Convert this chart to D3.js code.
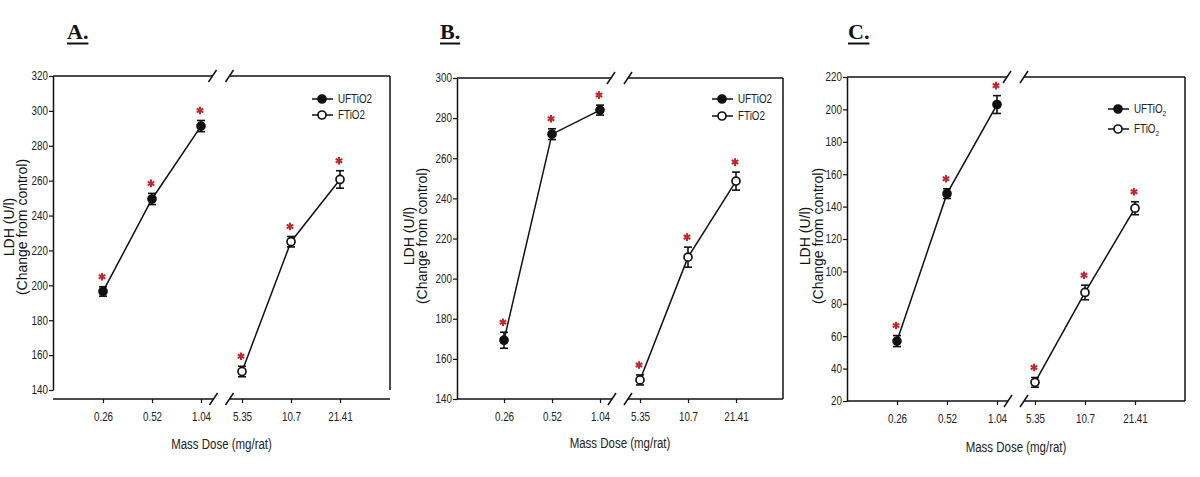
<!DOCTYPE html>
<html><head><meta charset="utf-8">
<script src="https://cdn.jsdelivr.net/npm/d3@7"></script>
<style>
html,body{margin:0;padding:0;background:#fff;}
svg{display:block;}
text{font-family:"Liberation Sans",Arial,sans-serif;fill:#111;}
</style></head>
<body>
<svg id="chart" width="1200" height="477"></svg>
<script>
// ---------- data ----------
const categories = ["0.26", "0.52", "1.04", "5.35", "10.7", "21.41"];
const seriesNames = ["UFTiO2", "FTiO2"];
const xLabel = "Mass Dose (mg/rat)";
const yLabel1 = "LDH (U/l)";
const yLabel2 = "(Change from control)";

// Panel A
const aUF = [196.5, 249.5, 291.3];
const aUFerr = [2.7, 3.2, 3.2];
const aF = [150.6, 225, 260.7];
const aFerr = [3, 3, 5];
const aYTicks = [140, 160, 180, 200, 220, 240, 260, 280, 300, 320];

// Panel B
const bUF = [169.3, 272, 284];
const bUFerr = [4, 2.7, 2.5];
const bF = [149.5, 210.7, 248.6];
const bFerr = [2.5, 5, 4.5];
const bYTicks = [140, 160, 180, 200, 220, 240, 260, 280, 300];

// Panel C
const cUF = [57, 148, 203];
const cUFerr = [3.4, 3, 5.5];
const cF = [31.5, 87, 139];
const cFerr = [3, 4.5, 4];
const cYTicks = [20, 40, 60, 80, 100, 120, 140, 160, 180, 200, 220];

// ---------- layout ----------
const SQ = 0.82; // horizontal condensing of sans text
const layouts = [
  {title:"A.", tx:67, left:53, right:390, top:76, yBottom:390, xAxisY:399, x0:103, s:49, g:41,
   yl1:14, yl2:27, ylY:227, legX:322, legY:[99,115], sub:false, xlY:449},
  {title:"B.", tx:440, left:457, right:783, top:78, yBottom:399, xAxisY:399, x0:504, s:48, g:40,
   yl1:414, yl2:427, ylY:236, legX:722, legY:[99,116], sub:false, xlY:448},
  {title:"C.", tx:848, left:847, right:1185, top:77, yBottom:401, xAxisY:401, x0:897, s:50, g:38,
   yl1:810, yl2:823, ylY:236, legX:1118, legY:[109,129], sub:true, xlY:452}
];
const panelData = [
  [aUF, aUFerr, aF, aFerr, aYTicks],
  [bUF, bUFerr, bF, bFerr, bYTicks],
  [cUF, cUFerr, cF, cFerr, cYTicks]
];

const svg = d3.select("#chart");
const starColor = "#c4262e";

function sqText(parent, x, y, str, size, anchor) {
  const t = parent.append("text")
    .attr("transform", `translate(${x},${y}) scale(${SQ},1)`)
    .attr("font-size", size)
    .attr("text-anchor", anchor || "start")
    .text(str);
  return t;
}

function slash(g, cx, cy) {
  g.append("line").attr("x1", cx - 4).attr("y1", cy + 6).attr("x2", cx + 4).attr("y2", cy - 6)
    .attr("stroke", "#111").attr("stroke-width", 1.5);
}

layouts.forEach((L, pi) => {
  const [uf, ufErr, f, fErr, yTicks] = panelData[pi];
  const g = svg.append("g");

  const x = d3.scaleLinear()
    .domain([0, 2, 3, 5])
    .range([L.x0, L.x0 + 2 * L.s, L.x0 + 2 * L.s + L.g, L.x0 + 4 * L.s + L.g]);
  const y = d3.scaleLinear()
    .domain([yTicks[0], yTicks[yTicks.length - 1]])
    .range([L.yBottom, L.top]);

  // title
  const title = g.append("text")
    .attr("x", L.tx).attr("y", 39)
    .style("font-family", "'Liberation Serif','Times New Roman',serif")
    .attr("font-weight", "bold").attr("font-size", 22)
    .text(L.title);
  const tw = title.node().getComputedTextLength();
  g.append("line").attr("x1", L.tx).attr("x2", L.tx + tw).attr("y1", 43.5).attr("y2", 43.5)
    .attr("stroke", "#111").attr("stroke-width", 2);

  // y axis
  const ya = g.append("g").attr("transform", `translate(${L.left},0)`)
    .call(d3.axisLeft(y).tickValues(yTicks).tickSize(4).tickSizeOuter(0).tickPadding(1));
  ya.select(".domain").attr("stroke", "#111").attr("stroke-width", 1.5);
  ya.selectAll(".tick line").attr("stroke", "#111").attr("stroke-width", 1.2);
  ya.selectAll(".tick text")
    .attr("font-size", 12).attr("font-family", null)
    .attr("x", -5 / SQ)
    .attr("transform", `scale(${SQ},1)`)
    .style("fill", "#222");

  // x axis
  const mid = (x(2) + x(3)) / 2;
  const xa = g.append("g").attr("transform", `translate(0,${L.xAxisY})`)
    .call(d3.axisBottom(x).tickValues([0, 1, 2, 3, 4, 5]).tickFormat(i => categories[i])
      .tickSize(4).tickSizeOuter(0).tickPadding(9));
  xa.select(".domain").remove();
  xa.selectAll(".tick line").attr("stroke", "#111").attr("stroke-width", 1.2);
  xa.selectAll(".tick text")
    .attr("font-size", 12).attr("font-family", null)
    .attr("transform", `scale(${SQ},1)`)
    .style("fill", "#222");

  // x axis line with break
  g.append("line").attr("x1", L.left).attr("x2", mid - 8).attr("y1", L.xAxisY).attr("y2", L.xAxisY)
    .attr("stroke", "#111").attr("stroke-width", 1.5);
  g.append("line").attr("x1", mid + 8).attr("x2", L.right).attr("y1", L.xAxisY).attr("y2", L.xAxisY)
    .attr("stroke", "#111").attr("stroke-width", 1.5);
  slash(g, mid - 8, L.xAxisY);
  slash(g, mid + 8, L.xAxisY);

  // top frame with break
  g.append("line").attr("x1", L.left).attr("x2", mid - 9).attr("y1", L.top).attr("y2", L.top)
    .attr("stroke", "#111").attr("stroke-width", 1.5);
  g.append("line").attr("x1", mid + 8).attr("x2", L.right).attr("y1", L.top).attr("y2", L.top)
    .attr("stroke", "#111").attr("stroke-width", 1.5);
  slash(g, mid - 9, L.top);
  slash(g, mid + 8, L.top);

  // right frame
  g.append("line").attr("x1", L.right).attr("x2", L.right).attr("y1", L.top).attr("y2", L.yBottom)
    .attr("stroke", "#111").attr("stroke-width", 1.5);

  // axis labels
  sqText(g, mid, L.xlY, xLabel, 14, "middle").style("fill", "#222");
  g.append("text").attr("transform", `translate(${L.yl1},${L.ylY}) rotate(-90)`)
    .attr("text-anchor", "middle").attr("font-size", 14).text(yLabel1);
  g.append("text").attr("transform", `translate(${L.yl2},${L.ylY}) rotate(-90)`)
    .attr("text-anchor", "middle").attr("font-size", 14).text(yLabel2);

  // series
  const series = [
    {vals: uf, errs: ufErr, idx: [0, 1, 2], filled: true},
    {vals: f, errs: fErr, idx: [3, 4, 5], filled: false}
  ];
  const line = d3.line().x(d => x(d.i)).y(d => y(d.v));
  series.forEach(se => {
    const pts = se.vals.map((v, k) => ({i: se.idx[k], v: v, e: se.errs[k]}));
    g.append("path").datum(pts).attr("d", line)
      .attr("fill", "none").attr("stroke", "#111").attr("stroke-width", 1.5);
    const eb = g.append("g");
    pts.forEach(p => {
      const cx = x(p.i), yt = y(p.v + p.e), yb = y(p.v - p.e);
      eb.append("line").attr("x1", cx).attr("x2", cx).attr("y1", yt).attr("y2", yb)
        .attr("stroke", "#111").attr("stroke-width", 1.6);
      [yt, yb].forEach(yy => eb.append("line").attr("x1", cx - 4).attr("x2", cx + 4)
        .attr("y1", yy).attr("y2", yy).attr("stroke", "#111").attr("stroke-width", 1.6));
    });
    g.selectAll(null).data(pts).enter().append("circle")
      .attr("cx", d => x(d.i)).attr("cy", d => y(d.v)).attr("r", 4)
      .attr("fill", se.filled ? "#111" : "#fff")
      .attr("stroke", "#111").attr("stroke-width", 1.7);
    // significance stars
    g.selectAll(null).data(pts).enter().append("path")
      .attr("d", d3.symbol(d3.symbolAsterisk, 40)())
      .attr("transform", d => `translate(${x(d.i) - 1},${y(d.v + d.e) - 10})`)
      .attr("stroke", starColor).attr("stroke-width", 2).attr("fill", "none");
  });

  // legend
  seriesNames.forEach((name, k) => {
    const ly = L.legY[k];
    g.append("line").attr("x1", L.legX - 10).attr("x2", L.legX + 11).attr("y1", ly).attr("y2", ly)
      .attr("stroke", "#111").attr("stroke-width", 1.5);
    g.append("circle").attr("cx", L.legX).attr("cy", ly).attr("r", 4)
      .attr("fill", k === 0 ? "#111" : "#fff").attr("stroke", "#111").attr("stroke-width", 1.7);
    const t = sqText(g, L.legX + 16, ly + 4, "", 12, "start").style("fill", "#222");
    if (L.sub) {
      t.append("tspan").text(name.slice(0, -1));
      t.append("tspan").attr("font-size", 8).attr("dy", 3).text(name.slice(-1));
    } else {
      t.text(name);
    }
  });
});
</script>
</body></html>
